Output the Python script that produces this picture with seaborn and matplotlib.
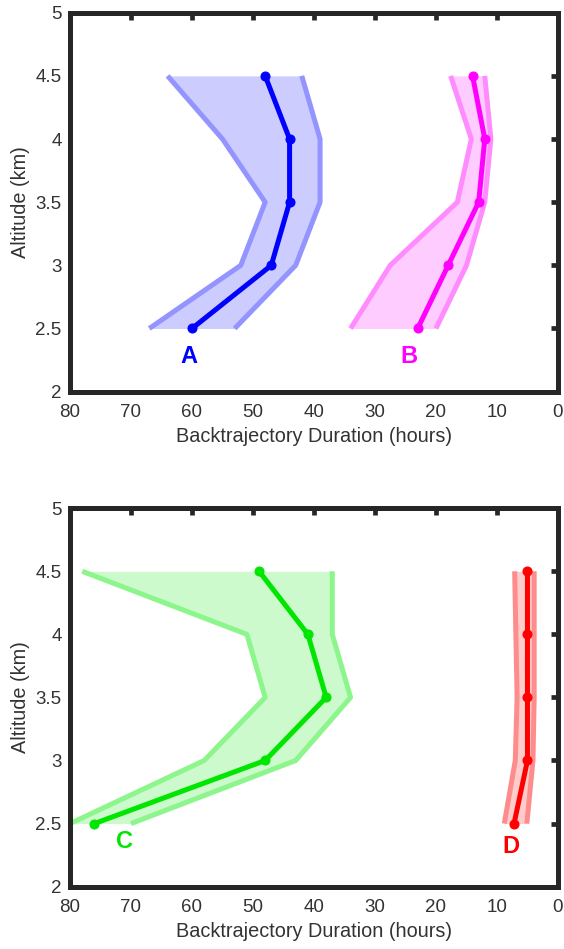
import numpy as np
import pandas as pd
import matplotlib
matplotlib.use("Agg")
import matplotlib.pyplot as plt
import seaborn as sns

# ── DATA ──────────────────────────────────────────────────────────────────────

altitude = [4.5, 4.0, 3.5, 3.0, 2.5]   # km

# backtrajectory duration (hours): median, upper (long) bound, lower (short) bound
a_median = [48, 44, 44, 47, 60]
a_long   = [64, 55, 48, 52, 67]
a_short  = [42, 39, 39, 43, 53]

b_median = [14, 12, 13, 18, 23]
b_long   = [17.6, 14.2, 16.5, 27.5, 34]
b_short  = [12, 11, 12, 15, 20]

c_median = [49, 41, 38, 48, 76]
c_long   = [78, 51, 48, 58, 80]
c_short  = [37, 37, 34, 43, 70]

d_median = [5, 5, 5, 5, 7.2]
d_long   = [7.1, 6.9, 6.7, 7.0, 8.8]
d_short  = [3.9, 3.9, 3.9, 4.1, 5.1]

# label text, x (hours), y (km)
labels_top    = [("A", 60.5, 2.28), ("B", 24.5, 2.28)]
labels_bottom = [("C", 71, 2.36), ("D", 7.7, 2.32)]

# colours: main line, band edge, band fill
COLORS = {
    "A": ("#0000FF", "#9494FF", "#CCCCFF"),
    "B": ("#FF00FF", "#FF8CFF", "#FFCCFF"),
    "C": ("#00E600", "#8CF58C", "#CCFACC"),
    "D": ("#FF0000", "#FF8C8C", "#FFCCCC"),
}

# ── STYLE ─────────────────────────────────────────────────────────────────────

sns.set_style("white")
plt.rcParams["font.family"] = ["Liberation Sans", "DejaVu Sans"]
TEXT_COL = "#333333"


def draw_series(ax, key, med, lo, hi):
    main, edge, fill = COLORS[key]
    ax.fill_betweenx(altitude, lo, hi, color=fill, lw=0, zorder=1)
    for bound in (lo, hi):
        df = pd.DataFrame({"hours": bound, "alt": altitude})
        sns.lineplot(data=df, x="hours", y="alt", sort=False, estimator=None,
                     color=edge, lw=3.6, ax=ax, zorder=2,
                     solid_capstyle="butt")
    df = pd.DataFrame({"hours": med, "alt": altitude})
    sns.lineplot(data=df, x="hours", y="alt", sort=False, estimator=None,
                 color=main, lw=3.6, marker="o", markersize=6.5,
                 markeredgecolor=main, ax=ax, zorder=3)


def style_axes(ax):
    ax.set_xlim(80, 0)
    ax.set_ylim(2, 5)
    ax.set_xticks(np.arange(80, -1, -10))
    ax.set_yticks([2, 2.5, 3, 3.5, 4, 4.5, 5])
    ax.set_yticklabels(["2", "2.5", "3", "3.5", "4", "4.5", "5"])
    ax.set_xlabel("Backtrajectory Duration (hours)", fontsize=14.3, color=TEXT_COL, labelpad=4)
    ax.set_ylabel("Altitude (km)", fontsize=14.3, color=TEXT_COL, labelpad=4)
    ax.tick_params(direction="in", length=5, width=3.4, colors="#262626",
                   labelcolor=TEXT_COL, labelsize=13.5, top=True, right=True)
    ax.tick_params(axis="x", pad=9)
    ax.tick_params(axis="y", pad=6)
    for sp in ax.spines.values():
        sp.set_linewidth(3.6)
        sp.set_color("#262626")
        sp.set_zorder(5)


fig = plt.figure(figsize=(5.64, 9.49), dpi=100)
ax1 = fig.add_axes([0.1241, 0.5873, 0.8652, 0.3993])
ax2 = fig.add_axes([0.1241, 0.0657, 0.8652, 0.3988])

draw_series(ax1, "A", a_median, a_long, a_short)
draw_series(ax1, "B", b_median, b_long, b_short)
draw_series(ax2, "C", c_median, c_long, c_short)
draw_series(ax2, "D", d_median, d_long, d_short)

for ax, labs in ((ax1, labels_top), (ax2, labels_bottom)):
    for txt, xh, ya in labs:
        ax.text(xh, ya, txt, color=COLORS[txt][0], fontsize=17, fontweight="bold",
                ha="center", va="center")
    style_axes(ax)

fig.savefig("out.png", dpi=100)
